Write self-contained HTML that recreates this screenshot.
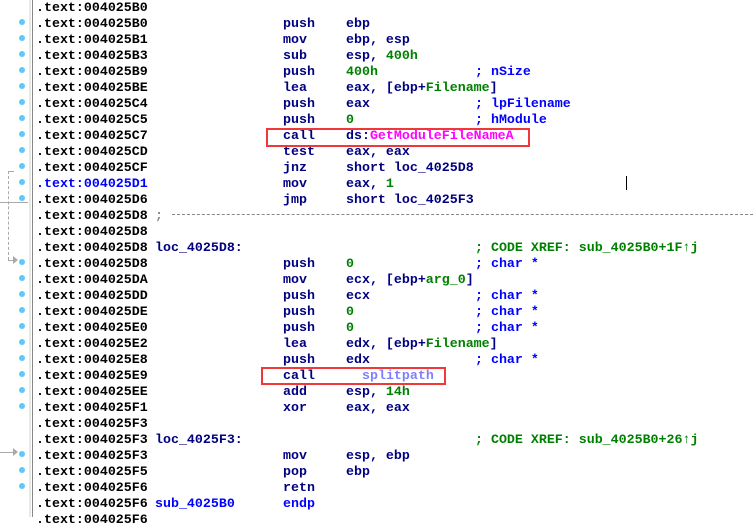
<!DOCTYPE html>
<html><head><meta charset="utf-8"><style>
body{margin:0;width:753px;height:517px;background:#fff;position:relative;overflow:hidden;font-family:"Liberation Mono",monospace;font-weight:bold;font-size:13.3px}
.r{position:absolute;left:0;height:16px;line-height:16px;white-space:pre;margin-top:1px}
.a{position:absolute;left:36px;color:#000}
.l{position:absolute;left:155px;color:#000080}
.m{position:absolute;left:283px;color:#000080}
.o{position:absolute;left:346px;color:#000080}
.c{position:absolute;left:475px;color:#0000ff}
.x{position:absolute;left:475px;color:#008000}
.g{color:#008000}
.d{position:absolute;left:19px;top:3px;width:6px;height:6px;border-radius:3px;background:#5bcbf5}
.box{position:absolute;border:2px solid #f03838}
</style></head><body>
<div style="position:absolute;left:29px;top:0;width:2px;height:517px;background:#e8e8e8"></div>
<div style="position:absolute;left:32px;top:0;width:1px;height:517px;background:#888"></div>
<div style="position:absolute;left:0;top:202px;width:28px;height:1px;background:#aaa"></div>
<div style="position:absolute;left:8px;top:171px;width:6px;border-top:1px dashed #aaa"></div>
<div style="position:absolute;left:8px;top:171px;height:89px;border-left:1px dashed #aaa"></div>
<div style="position:absolute;left:8px;top:260px;width:6px;border-top:1px dashed #aaa"></div>
<div style="position:absolute;left:13px;top:256px;border-left:5px solid #aaa;border-top:4px solid transparent;border-bottom:4px solid transparent"></div>
<div style="position:absolute;left:0;top:452px;width:14px;height:1px;background:#aaa"></div>
<div style="position:absolute;left:13px;top:448px;border-left:5px solid #aaa;border-top:4px solid transparent;border-bottom:4px solid transparent"></div>
<div style="position:absolute;left:172px;top:214px;width:581px;border-top:1px dashed #888"></div>
<div style="position:absolute;left:626px;top:176px;width:1px;height:14px;background:#000"></div>

<div class="r" style="top:-1px"><span class="a">.text:004025B0</span></div>
<div class="r" style="top:15px"><i class="d"></i><span class="a">.text:004025B0</span><span class="m">push</span><span class="o">ebp</span></div>
<div class="r" style="top:31px"><i class="d"></i><span class="a">.text:004025B1</span><span class="m">mov</span><span class="o">ebp, esp</span></div>
<div class="r" style="top:47px"><i class="d"></i><span class="a">.text:004025B3</span><span class="m">sub</span><span class="o">esp, <span class="g">400h</span></span></div>
<div class="r" style="top:63px"><i class="d"></i><span class="a">.text:004025B9</span><span class="m">push</span><span class="o g">400h</span><span class="c">; nSize</span></div>
<div class="r" style="top:79px"><i class="d"></i><span class="a">.text:004025BE</span><span class="m">lea</span><span class="o">eax, [ebp+<span class="g">Filename</span>]</span></div>
<div class="r" style="top:95px"><i class="d"></i><span class="a">.text:004025C4</span><span class="m">push</span><span class="o">eax</span><span class="c">; lpFilename</span></div>
<div class="r" style="top:111px"><i class="d"></i><span class="a">.text:004025C5</span><span class="m">push</span><span class="o g">0</span><span class="c">; hModule</span></div>
<div class="r" style="top:127px"><i class="d"></i><span class="a">.text:004025C7</span><span class="m">call</span><span class="o">ds:<span style="color:#ff00ff">GetModuleFileNameA</span></span></div>
<div class="r" style="top:143px"><i class="d"></i><span class="a">.text:004025CD</span><span class="m">test</span><span class="o">eax, eax</span></div>
<div class="r" style="top:159px"><i class="d"></i><span class="a">.text:004025CF</span><span class="m">jnz</span><span class="o">short loc_4025D8</span></div>
<div class="r" style="top:175px"><i class="d"></i><span class="a" style="color:#0000ff">.text:004025D1</span><span class="m">mov</span><span class="o">eax, <span class="g">1</span></span></div>
<div class="r" style="top:191px"><i class="d"></i><span class="a">.text:004025D6</span><span class="m">jmp</span><span class="o">short loc_4025F3</span></div>
<div class="r" style="top:207px"><span class="a">.text:004025D8</span><span class="l" style="color:#888">;</span></div>
<div class="r" style="top:223px"><span class="a">.text:004025D8</span></div>
<div class="r" style="top:239px"><span class="a">.text:004025D8</span><span class="l">loc_4025D8:</span><span class="x">; CODE XREF: sub_4025B0+1F↑j</span></div>
<div class="r" style="top:255px"><i class="d"></i><span class="a">.text:004025D8</span><span class="m">push</span><span class="o g">0</span><span class="c">; char *</span></div>
<div class="r" style="top:271px"><i class="d"></i><span class="a">.text:004025DA</span><span class="m">mov</span><span class="o">ecx, [ebp+<span class="g">arg_0</span>]</span></div>
<div class="r" style="top:287px"><i class="d"></i><span class="a">.text:004025DD</span><span class="m">push</span><span class="o">ecx</span><span class="c">; char *</span></div>
<div class="r" style="top:303px"><i class="d"></i><span class="a">.text:004025DE</span><span class="m">push</span><span class="o g">0</span><span class="c">; char *</span></div>
<div class="r" style="top:319px"><i class="d"></i><span class="a">.text:004025E0</span><span class="m">push</span><span class="o g">0</span><span class="c">; char *</span></div>
<div class="r" style="top:335px"><i class="d"></i><span class="a">.text:004025E2</span><span class="m">lea</span><span class="o">edx, [ebp+<span class="g">Filename</span>]</span></div>
<div class="r" style="top:351px"><i class="d"></i><span class="a">.text:004025E8</span><span class="m">push</span><span class="o">edx</span><span class="c">; char *</span></div>
<div class="r" style="top:367px"><i class="d"></i><span class="a">.text:004025E9</span><span class="m">call</span><span class="o" style="left:362px;color:#8080ff">splitpath</span></div>
<div class="r" style="top:383px"><i class="d"></i><span class="a">.text:004025EE</span><span class="m">add</span><span class="o">esp, <span class="g">14h</span></span></div>
<div class="r" style="top:399px"><i class="d"></i><span class="a">.text:004025F1</span><span class="m">xor</span><span class="o">eax, eax</span></div>
<div class="r" style="top:415px"><span class="a">.text:004025F3</span></div>
<div class="r" style="top:431px"><span class="a">.text:004025F3</span><span class="l">loc_4025F3:</span><span class="x">; CODE XREF: sub_4025B0+26↑j</span></div>
<div class="r" style="top:447px"><i class="d"></i><span class="a">.text:004025F3</span><span class="m">mov</span><span class="o">esp, ebp</span></div>
<div class="r" style="top:463px"><i class="d"></i><span class="a">.text:004025F5</span><span class="m">pop</span><span class="o">ebp</span></div>
<div class="r" style="top:479px"><i class="d"></i><span class="a">.text:004025F6</span><span class="m">retn</span></div>
<div class="r" style="top:495px"><span class="a">.text:004025F6</span><span class="l" style="color:#0000ff">sub_4025B0</span><span class="m" style="color:#0000ff">endp</span></div>
<div class="r" style="top:511px"><span class="a">.text:004025F6</span></div>

<div class="box" style="left:266px;top:128px;width:260px;height:15px"></div>
<div class="box" style="left:261px;top:367px;width:181px;height:14px"></div>
</body></html>
